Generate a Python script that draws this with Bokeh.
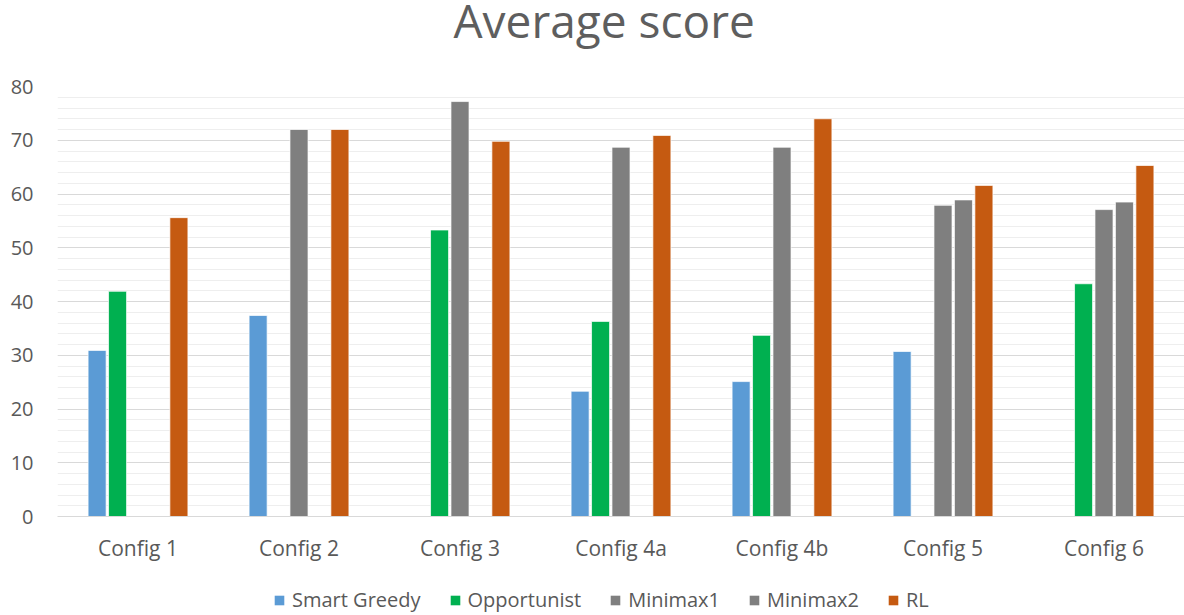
from bokeh.plotting import figure
from bokeh.models import ColumnDataSource, FactorRange, Range1d, SingleIntervalTicker, Legend, LegendItem, Label
from bokeh.layouts import column
from bokeh.transform import dodge
from bokeh.embed import file_html
from bokeh.resources import INLINE

categories = ["Config 1", "Config 2", "Config 3", "Config 4a", "Config 4b", "Config 5", "Config 6"]
series_names = ["Smart Greedy", "Opportunist", "Minimax1", "Minimax2", "RL"]
smart_greedy = [30.9, 37.4, None, 23.3, 25.1, 30.7, None]
opportunist = [41.9, None, 53.3, 36.3, 33.7, None, 43.3]
minimax1 = [None, 72.0, 77.2, 68.7, 68.7, 57.9, 57.1]
minimax2 = [None, None, None, None, None, 58.9, 58.5]
rl = [55.6, 72.0, 69.8, 70.9, 74.0, 61.6, 65.3]
colors = ["#5B9BD5", "#00B050", "#7F7F7F", "#7F7F7F", "#C55A11"]
title_text = "Average score"

FONT = "Open Sans"
TXT = "#595959"

W = 1184
H_TITLE, H_MAIN, H_LEG = 50, 525, 40


def bare_fig(h):
    f = figure(width=W, height=h, x_range=Range1d(0, 1), y_range=Range1d(0, 1),
               output_backend="svg", toolbar_location=None, min_border=0, title=None,
               x_axis_location=None, y_axis_location=None)
    f.outline_line_color = None
    f.grid.visible = False
    return f


# ---- title strip
tf = bare_fig(H_TITLE)
tf.add_layout(Label(x=396, y=31, x_units="screen", y_units="screen", text=title_text,
                    text_font=FONT, text_font_size="46px", text_color="#5e5e5e",
                    text_align="left", text_baseline="alphabetic"))

# ---- main chart
p = figure(width=W, height=H_MAIN, x_range=FactorRange(*categories), y_range=Range1d(0, 80),
           output_backend="svg", toolbar_location=None,
           min_border_left=57, min_border_right=0, min_border_top=36, min_border_bottom=59)
p.outline_line_color = None

stride = 0.127
width = 0.112
all_series = [smart_greedy, opportunist, minimax1, minimax2, rl]
for k, (name, vals, col) in enumerate(zip(series_names, all_series, colors)):
    xs = [c for c, v in zip(categories, vals) if v is not None]
    ys = [v for v in vals if v is not None]
    src = ColumnDataSource(dict(x=xs, top=ys))
    p.vbar(x=dodge("x", (k - 2) * stride, range=p.x_range), top="top", width=width, bottom=0,
           source=src, fill_color=col, line_color="white", line_width=1, line_alpha=0.7)

p.yaxis.ticker = SingleIntervalTicker(interval=10, num_minor_ticks=5)
p.yaxis.axis_line_color = None
p.yaxis.major_tick_line_color = None
p.yaxis.minor_tick_line_color = None
p.yaxis.major_tick_out = 0
p.yaxis.minor_tick_out = 0
p.yaxis.major_label_text_font = FONT
p.yaxis.major_label_text_font_size = "20px"
p.yaxis.major_label_text_color = TXT
p.yaxis.major_label_standoff = 24

p.xaxis.axis_line_color = "#d9d9d9"
p.xaxis.axis_line_width = 1
p.xaxis.major_tick_line_color = None
p.xaxis.minor_tick_line_color = None
p.xaxis.major_tick_out = 0
p.xaxis.minor_tick_out = 0
p.xaxis.major_label_text_font = FONT
p.xaxis.major_label_text_font_size = "21px"
p.xaxis.major_label_text_color = TXT
p.xaxis.major_label_standoff = 17

p.xgrid.grid_line_color = None
p.ygrid.grid_line_color = "#d9d9d9"
p.ygrid.minor_grid_line_color = "#eeeeee"
p.ygrid.level = "underlay"

# ---- legend strip (swatch renderers sit outside the strip's visible range)
lf = bare_fig(H_LEG)
leg_renderers = []
for name, col in zip(series_names, colors):
    r = lf.vbar(x=[5], top=[1], width=0.1, fill_color=col, line_color=None)
    leg_renderers.append(r)
legend = Legend(items=[LegendItem(label=n, renderers=[r]) for n, r in zip(series_names, leg_renderers)],
                orientation="horizontal", location=(216, 2),
                label_text_font=FONT, label_text_font_size="20px", label_text_color=TXT,
                glyph_width=12, glyph_height=12, label_standoff=7, spacing=28,
                padding=0, margin=0, border_line_color=None, background_fill_alpha=0,
                label_height=24)
lf.add_layout(legend, "center")

layout = column(tf, p, lf, spacing=0)
open("out.html", "w").write(file_html(layout, INLINE))
